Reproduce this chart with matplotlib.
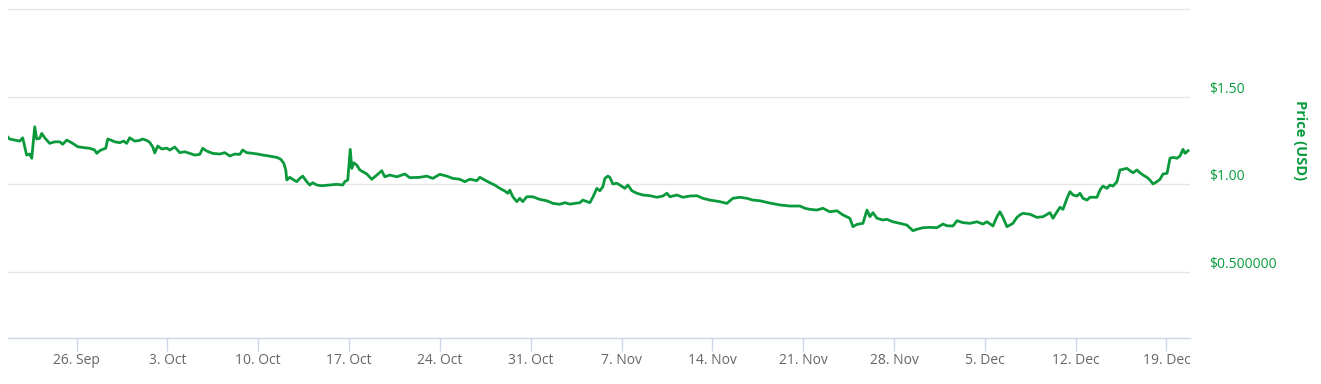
import numpy as np, matplotlib; matplotlib.use("Agg"); import matplotlib.pyplot as plt
plt.rcParams['font.family'] = ['Open Sans', 'DejaVu Sans']
# price series (USD) vs days since 20 Sep
days = [0.71,0.84,1.23,1.61,1.84,2.15,2.38,2.54,2.77,2.92,3.15,3.31,3.54,3.92,4.31,4.70,4.93,5.24,5.70,
        6.08,6.62,7.01,7.39,7.55,7.78,8.01,8.24,8.40,8.63,8.94,9.32,9.63,9.86,10.09,10.48,10.86,11.09,11.40,
        11.63,11.87,12.02,12.25,12.56,12.95,13.18,13.56,13.95,14.33,14.72,15.10,15.49,15.72,16.03,16.49,
        17.03,17.42,17.80,18.19,18.57,18.80,19.11,19.58,19.96,20.35,20.73,21.12,21.43,21.74,21.97,22.12,
        22.20,22.43,22.74,22.97,23.20,23.43,23.74,23.97,24.20,24.51,24.90,25.51,26.05,26.51,26.67,26.90,
        27.09,27.21,27.36,27.59,27.83,28.06,28.37,28.75,29.14,29.52,29.75,30.14,30.68,31.29,31.68,32.45,
        32.99,33.45,33.99,34.53,34.99,35.53,35.92,36.31,36.85,37.08,37.46,37.85,38.23,38.62,39.00,39.24,
        39.39,39.62,39.93,40.16,40.39,40.70,41.16,41.70,42.24,42.71,43.25,43.63,44.02,44.40,44.79,45.02,
        45.33,45.56,45.79,46.10,46.33,46.56,46.72,46.95,47.10,47.33,47.64,47.87,48.26,48.49,48.80,49.18,
        49.65,50.18,50.72,51.19,51.50,51.73,52.27,52.73,53.27,53.81,54.27,54.81,55.58,56.12,56.58,57.12,
        57.66,58.13,58.67,59.44,60.21,60.98,61.75,62.14,62.52,63.06,63.52,64.06,64.60,65.07,65.60,65.84,
        66.15,66.61,66.92,67.15,67.38,67.69,68.15,68.46,68.92,69.46,70.00,70.46,70.77,71.24,71.77,72.31,
        72.78,73.09,73.55,73.86,74.32,74.86,75.40,75.86,76.17,76.63,76.94,77.17,77.40,77.71,77.94,78.17,
        78.48,78.71,78.94,79.48,80.02,80.49,81.03,81.26,81.57,81.80,82.03,82.34,82.57,82.80,83.11,83.34,
        83.57,83.88,84.11,84.65,84.88,85.11,85.42,85.65,85.88,86.19,86.42,86.65,86.96,87.19,87.43,87.73,
        87.96,88.20,88.50,88.73,88.97,89.27,89.51,89.74,90.05,90.28,90.51,90.82,91.05,91.28,91.44,91.67]
price = [1.269,1.259,1.253,1.247,1.266,1.167,1.173,1.149,1.329,1.259,1.263,1.291,1.266,1.234,1.243,1.243,1.229,1.253,1.234,
         1.215,1.209,1.206,1.196,1.177,1.192,1.200,1.206,1.259,1.253,1.243,1.238,1.247,1.234,1.266,1.247,1.251,1.259,1.251,
         1.240,1.213,1.179,1.219,1.202,1.207,1.196,1.213,1.181,1.186,1.177,1.167,1.171,1.206,1.190,1.177,
         1.173,1.181,1.162,1.173,1.171,1.196,1.181,1.177,1.173,1.167,1.163,1.158,1.154,1.143,1.120,1.082,
         1.025,1.040,1.025,1.015,1.034,1.047,1.015,0.996,1.009,0.996,0.992,0.996,1.000,0.996,1.015,1.025,
         1.200,1.091,1.123,1.110,1.082,1.072,1.059,1.029,1.053,1.078,1.043,1.053,1.043,1.059,1.038,1.040,
         1.047,1.034,1.057,1.047,1.034,1.029,1.015,1.029,1.021,1.040,1.025,1.009,0.996,0.977,0.962,0.949,
         0.967,0.929,0.901,0.920,0.901,0.929,0.929,0.914,0.906,0.891,0.886,0.895,0.887,0.891,0.895,0.910,
         0.901,0.895,0.926,0.977,0.963,0.986,1.034,1.047,1.040,1.002,1.006,0.996,0.977,0.996,0.963,0.949,
         0.939,0.935,0.926,0.933,0.949,0.929,0.939,0.926,0.933,0.935,0.920,0.910,0.901,0.891,0.920,0.926,
         0.920,0.910,0.906,0.893,0.882,0.876,0.876,0.863,0.857,0.853,0.863,0.843,0.849,0.825,0.806,0.758,
         0.771,0.777,0.853,0.815,0.838,0.806,0.796,0.800,0.786,0.777,0.767,0.735,0.743,0.752,0.754,0.752,
         0.773,0.763,0.762,0.792,0.781,0.777,0.786,0.773,0.786,0.762,0.815,0.843,0.811,0.758,0.767,0.777,
         0.811,0.825,0.834,0.829,0.811,0.815,0.838,0.806,0.843,0.869,0.857,0.920,0.958,0.939,0.933,0.949,
         0.920,0.910,0.926,0.926,0.967,0.990,0.977,0.996,0.990,1.015,1.082,1.086,1.091,1.078,1.066,1.082,
         1.066,1.053,1.040,1.025,1.002,1.015,1.029,1.059,1.063,1.149,1.154,1.149,1.162,1.200,1.177,1.192]
tick_days = [6,13,20,27,34,41,48,55,62,69,76,83,90]
tick_labels = ["26. Sep","3. Oct","10. Oct","17. Oct","24. Oct","31. Oct","7. Nov",
               "14. Nov","21. Nov","28. Nov","5. Dec","12. Dec","19. Dec"]
y_ticks = [0.5,1.0,1.5,2.0]
y_labels = ["$0.500000","$1.00","$1.50",""]

green = "#0a9a3c"
fig = plt.figure(figsize=(13.21,3.84), dpi=100)
ax = fig.add_axes([8/1321, 45.7/384, 1182/1321, 330/384])
ax.plot(days, price, color=green, lw=2.0, solid_joinstyle="round")
ax.set_xlim(days[0], 91.82); ax.set_ylim(0.12, 2.006)
ax.set_xticks(tick_days); ax.set_xticklabels(tick_labels, fontsize=10, color="#666666")
ax.tick_params(axis="x", length=9, width=1, color="#ccd6eb", pad=1.5)
ax.yaxis.tick_right()
ax.set_yticks(y_ticks); ax.set_yticklabels(y_labels, fontsize=10, color=green, va="bottom")
ax.tick_params(axis="y", length=0, pad=14)
ax.grid(axis="y", color="#e6e6e6", lw=1)
ax.set_axisbelow(True)
for s in ["top","left","right"]: ax.spines[s].set_visible(False)
ax.spines["bottom"].set_color("#ccd6eb"); ax.spines["bottom"].set_linewidth(1)
fig.text(1300/1321, 1-140/384, "Price (USD)", rotation=-90, color=green, fontsize=10.5,
         fontweight="bold", ha="center", va="center")
fig.savefig("out.png", dpi=100)
